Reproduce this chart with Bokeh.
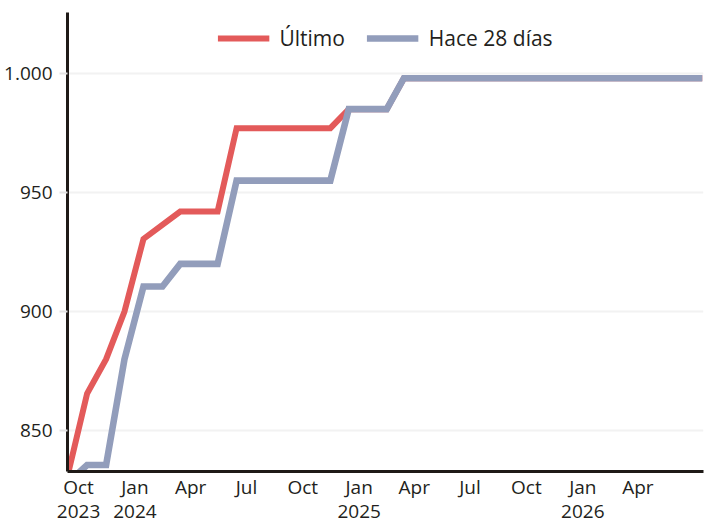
import pandas as pd
from bokeh.plotting import figure
from bokeh.models import Range1d, FixedTicker, Legend, LegendItem, ColumnDataSource
from bokeh.embed import file_html
from bokeh.resources import INLINE

# ---- data ----
ultimo_dates = ["2023-09-15", "2023-10-15", "2023-11-15", "2023-12-15", "2024-01-15",
                "2024-03-15", "2024-05-15", "2024-06-15", "2024-11-15", "2024-12-15",
                "2025-02-15", "2025-03-15", "2026-07-15"]
ultimo_values = [833, 865.5, 880, 900, 930.5, 942, 942, 977, 977, 985, 985, 998, 998]

hace28_dates = ["2023-09-15", "2023-10-15", "2023-11-15", "2023-12-15", "2024-01-15",
                "2024-02-15", "2024-03-15", "2024-05-15", "2024-06-15", "2024-11-15",
                "2024-12-15", "2025-02-15", "2025-03-15", "2026-07-15"]
hace28_values = [828.5, 835.5, 835.5, 880, 910.5, 910.5, 920, 920, 955, 955, 985, 985, 998, 998]

series_names = ["Último", "Hace 28 días"]
y_ticks = [850, 900, 950, 1000]
y_tick_labels = ["850", "900", "950", "1.000"]
x_tick_dates = ["2023-10-01", "2024-01-01", "2024-04-01", "2024-07-01", "2024-10-01",
                "2025-01-01", "2025-04-01", "2025-07-01", "2025-10-01", "2026-01-01",
                "2026-04-01"]
x_tick_labels = ["Oct\n2023", "Jan\n2024", "Apr", "Jul", "Oct", "Jan\n2025", "Apr", "Jul",
                 "Oct", "Jan\n2026", "Apr"]

FONT = "Open Sans"
TEXT = "#231f20"
RED = "#e35a5a"
BLUE = "#929dbb"

p = figure(width=707, height=527, output_backend="svg", toolbar_location=None,
           x_axis_type="datetime",
           x_range=Range1d(pd.Timestamp("2023-09-13"), pd.Timestamp("2026-07-17")),
           y_range=Range1d(832.8, 1025.6),
           min_border_left=67, min_border_right=4, min_border_top=12, min_border_bottom=0)
p.outline_line_color = None
p.background_fill_color = "white"
p.border_fill_color = "white"

src_u = ColumnDataSource(dict(x=pd.to_datetime(ultimo_dates), y=ultimo_values))
src_h = ColumnDataSource(dict(x=pd.to_datetime(hace28_dates), y=hace28_values))
r_u = p.line("x", "y", source=src_u, line_color=RED, line_width=6, line_join="miter")
r_h = p.line("x", "y", source=src_h, line_color=BLUE, line_width=6.6, line_join="miter")

# y axis
p.yaxis.ticker = FixedTicker(ticks=y_ticks)
p.yaxis.major_label_overrides = {float(t): l for t, l in zip(y_ticks, y_tick_labels)}
p.yaxis.axis_line_color = "#1f1a17"
p.yaxis.axis_line_width = 3
p.yaxis.major_tick_out = 8
p.yaxis.major_tick_in = 0
p.yaxis.major_tick_line_color = "#e3e3e3"
p.yaxis.major_tick_line_width = 2
p.yaxis.minor_tick_line_color = None
p.yaxis.major_label_standoff = 7
p.yaxis.major_label_text_font = FONT
p.yaxis.major_label_text_font_size = "19px"
p.yaxis.major_label_text_color = TEXT

# x axis
x_ms = [pd.Timestamp(d).value / 1e6 for d in x_tick_dates]
p.xaxis.ticker = FixedTicker(ticks=x_ms)
p.xaxis.major_label_overrides = {float(t): l for t, l in zip(x_ms, x_tick_labels)}
p.xaxis.axis_line_color = "#1f1a17"
p.xaxis.axis_line_width = 3
p.xaxis.major_tick_line_color = None
p.xaxis.minor_tick_line_color = None
p.xaxis.major_tick_out = 0
p.xaxis.major_tick_in = 0
p.xaxis.major_label_standoff = 2
p.xaxis.major_label_text_font = FONT
p.xaxis.major_label_text_font_size = "19px"
p.xaxis.major_label_text_line_height = 0.95
p.xaxis.major_label_text_color = TEXT

p.xgrid.grid_line_color = None
p.ygrid.grid_line_color = "#f2f2f2"
p.ygrid.grid_line_width = 2

legend = Legend(items=[LegendItem(label=series_names[0], renderers=[r_u]),
                       LegendItem(label=series_names[1], renderers=[r_h])],
                location="top_center", orientation="horizontal",
                border_line_color=None, background_fill_alpha=0,
                label_text_font=FONT, label_text_font_size="21px",
                label_text_color=TEXT, glyph_width=52, glyph_height=20,
                label_standoff=10, spacing=22, margin=12, padding=6)
p.add_layout(legend)

open("out.html", "w").write(file_html(p, INLINE))
